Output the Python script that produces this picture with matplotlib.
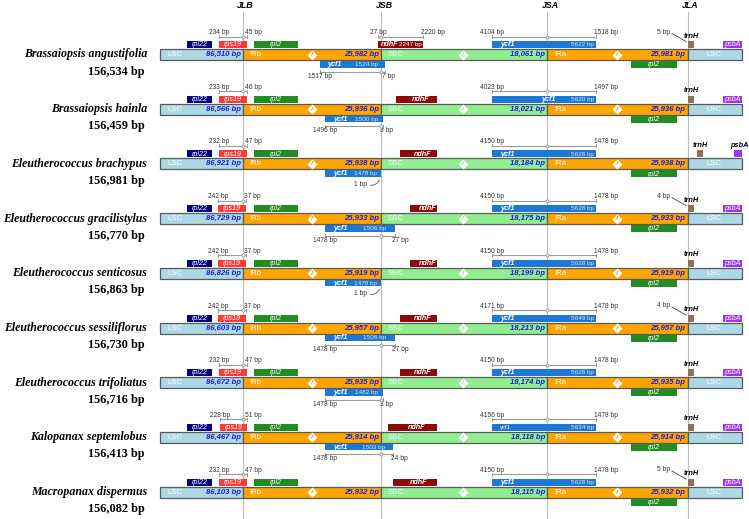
import matplotlib
matplotlib.use("Agg")
import matplotlib.pyplot as plt
from matplotlib.patches import Rectangle, FancyArrowPatch

species = ["Brassaiopsis angustifolia", "Brassaiopsis hainla", "Eleutherococcus brachypus",
           "Eleutherococcus gracilistylus", "Eleutherococcus senticosus", "Eleutherococcus sessiliflorus",
           "Eleutherococcus trifoliatus", "Kalopanax septemlobus", "Macropanax dispermus"]
genome_bp = [156534, 156459, 156981, 156770, 156863, 156730, 156716, 156413, 156082]
lsc_bp = [86510, 86566, 86921, 86729, 86826, 86603, 86672, 86467, 86103]
irb_bp = [25982, 25936, 25938, 25933, 25919, 25957, 25935, 25914, 25932]
ssc_bp = [18061, 18021, 18184, 18175, 18199, 18213, 18174, 18118, 18115]
ira_bp = [25981, 25936, 25938, 25933, 25919, 25957, 25935, 25914, 25932]

# rps19 across JLB
rps19_lsc = [234, 233, 232, 242, 242, 242, 232, 228, 232]
rps19_irb = [45, 46, 47, 37, 37, 37, 47, 51, 47]

# ycf1 fragment at IRb/SSC (None = absent, -1 = ends 1 bp before JSB)
ycf1_irb_len = [1524, 1500, 1478, 1506, 1478, 1506, 1482, 1503, None]
ycf1_irb_in = [1517, 1496, 1478, 1478, 1478, 1478, 1478, 1478, None]
ycf1_irb_ssc = [7, 3, -1, 27, -1, 27, 3, 24, None]

# ycf1 across JSA
ycf1_len = [5622, 5620, 5628, 5628, 5628, 5649, 5628, 5634, 5628]
ycf1_ssc = [4104, 4023, 4150, 4150, 4150, 4171, 4150, 4156, 4150]
ycf1_ira = [1518, 1497, 1478, 1478, 1478, 1478, 1478, 1478, 1478]

# ndhF (only first genome annotated)
ndhf_len = [2247, None, None, None, None, None, None, None, None]
ndhf_irb = [27, None, None, None, None, None, None, None, None]
ndhf_ssc = [2220, None, None, None, None, None, None, None, None]

# trnH distance from JLA
trnh_gap = [5, None, None, 4, None, 4, None, None, 5]

# ---- layout (pixels) ----
JUNC = [("JLB", 242.5), ("JSB", 381), ("JSA", 547), ("JLA", 687.5)]
BAR_X0, BAR_X1 = 160, 741.5
ROW_Y0, ROW_DY = 54.5, 54.7
ndhf_x0 = [378, 396, 400, 410, 410, 400, 400, 388, 393]
ycf1_lbl_x = [500, 548, 500, 500, 500, 500, 500, 500, 500]
trnh_detached = [False, False, True, False, False, False, False, False, False]

SANS = "Liberation Sans"
SERIF = "Liberation Serif"
C_LSC, C_IR, C_SSC = "#ADD8E6", "#FFA500", "#90EE90"
BLUE = "#1F1FE0"
GREY = "#9a9a9a"
TXT = "#333333"

fig = plt.figure(figsize=(7.49, 5.19), dpi=100)
ax = fig.add_axes([0, 0, 1, 1])
ax.set_xlim(0, 749)
ax.set_ylim(519, 0)
ax.axis("off")

jlb, jsb, jsa, jla = [x for _, x in JUNC]
for name, x in JUNC:
    ax.plot([x, x], [12, 519], color="#bdbdbd", lw=0.8, zorder=1)
    ax.text(x + 3, 5, name, ha="center", va="center", fontsize=6.3, fontweight="bold",
            fontstyle="italic", family=SANS)


def gene(x0, x1, y0, color, label=None, lbl_x=None, bold=False):
    ax.add_patch(Rectangle((x0, y0), x1 - x0, 7, fc=color, ec="none", zorder=3))
    if label:
        lx = (x0 + x1) / 2 if lbl_x is None else lbl_x
        ax.text(lx, y0 + 3.7, label, ha="center", va="center", fontsize=5.2, color="white",
                fontstyle="italic", fontweight="bold" if bold else "normal", family=SANS, zorder=4)


def span(xa, xm, xb, y, lt, rt, dy):
    ax.plot([xa, xb], [y, y], color=GREY, lw=0.8, zorder=3)
    for x in (xa, xb):
        ax.plot([x, x], [y - 1.5, y + 1.5], color=GREY, lw=0.7, zorder=3)
    ax.plot(xm, y, marker="o", ms=2.2, mfc="white", mec=GREY, mew=0.6, zorder=4)
    ax.text(xa, y + dy, lt, ha="center", va="center", fontsize=4.8, color=TXT, family=SANS)
    ax.text(xb - 2, y + dy, rt, ha="left", va="center", fontsize=4.8, color=TXT, family=SANS)


def brk(x, y, c):
    ax.plot(x, y, marker="D", ms=4.8, mfc="white", mec="none", zorder=4)
    ax.text(x, y, "//", ha="center", va="center", fontsize=4.0, color=c, fontweight="bold",
            fontstyle="italic", family=SANS, zorder=5)


for i, sp in enumerate(species):
    yc = ROW_Y0 + ROW_DY * i
    top = yc - 13.5
    bot = yc + 6.5

    ax.text(147, yc, sp, ha="right", va="center", family=SERIF, fontsize=8.6,
            fontweight="bold", fontstyle="italic")
    ax.text(145, yc + 17, f"{genome_bp[i]:,} bp", ha="right", va="center", family=SERIF,
            fontsize=8.8, fontweight="bold")

    segs = [(BAR_X0, jlb, C_LSC, "LSC", lsc_bp[i]), (jlb, jsb, C_IR, "IRb", irb_bp[i]),
            (jsb, jsa, C_SSC, "SSC", ssc_bp[i]), (jsa, jla, C_IR, "IRa", ira_bp[i]),
            (jla, BAR_X1, C_LSC, "LSC", None)]
    for x0, x1, c, lab, bp in segs:
        ax.add_patch(Rectangle((x0, yc - 5.5), x1 - x0, 11, fc=c, ec="#5a5a5a", lw=0.9, zorder=2))
        if bp is None:
            ax.text((x0 + x1) / 2 - 1, yc, lab, ha="center", va="center", fontsize=5.6,
                    color="white", family=SANS, zorder=4)
        else:
            ax.text(x0 + 7, yc, lab, ha="left", va="center", fontsize=5.6, color="white",
                    family=SANS, zorder=4)
            ax.text(x1 - 2, yc, f"{bp:,} bp", ha="right", va="center", fontsize=5.6, color=BLUE,
                    fontweight="bold", fontstyle="italic", family=SANS, zorder=4)
    brk(311.5, yc, C_IR)
    brk(462.5, yc, C_SSC)
    brk(617, yc, C_IR)

    # JLB genes
    gene(187, 212, top, "#000080", "rpl22")
    r0 = jlb - 0.1 * rps19_lsc[i]
    r1 = jlb + 0.09 * rps19_irb[i]
    gene(r0, r1, top, "#FF3838", "rps19")
    gene(253.5, 298, top, "#228B22", "rpl2")
    span(r0, jlb, r1, yc - 18, f"{rps19_lsc[i]} bp", f"{rps19_irb[i]} bp", -4)

    # ndhF
    n1 = 423 if ndhf_len[i] else 437
    if ndhf_len[i]:
        gene(ndhf_x0[i], n1, top, "#8B0A0A")
        ax.text(ndhf_x0[i] + 3, top + 3.7, "ndhF", ha="left", va="center", fontsize=5.2,
                color="white", fontstyle="italic", fontweight="bold", family=SANS, zorder=4)
        ax.text(n1 - 1.5, top + 3.7, f"{ndhf_len[i]} bp", ha="right", va="center", fontsize=4.6,
                color="white", family=SANS, zorder=4)
        span(ndhf_x0[i], jsb, n1, yc - 18, f"{ndhf_irb[i]} bp", f"{ndhf_ssc[i]} bp", -4)
    else:
        gene(ndhf_x0[i], n1, top, "#8B0A0A", "ndhF", lbl_x=(ndhf_x0[i] + n1) / 2 + 4, bold=True)

    # ycf1 across JSA
    small = i == 7
    ax.add_patch(Rectangle((492, top), 104, 7, fc="#1C78D4", ec="none", zorder=3))
    ax.text(ycf1_lbl_x[i], top + 3.7, "ycf1", ha="left" if ycf1_lbl_x[i] < 520 else "center",
            va="center", fontsize=4.3 if small else 5.2, color="white",
            fontstyle="normal" if small else "italic", fontweight="normal" if small else "bold",
            family=SANS, zorder=4)
    ax.text(594, top + 3.7, f"{ycf1_len[i]} bp", ha="right", va="center", fontsize=4.6,
            color="#e0e0e0", family=SANS, zorder=4)
    span(492, jsa, 596, yc - 18, f"{ycf1_ssc[i]} bp", f"{ycf1_ira[i]} bp", -4)

    # ycf1 at IRb/SSC
    if ycf1_irb_len[i] is not None:
        y0 = 325 - max(0, ycf1_irb_in[i] - 1496) * 0.25
        y1 = jsb + 0.5 * max(ycf1_irb_ssc[i], 0)
        ax.add_patch(Rectangle((y0, bot), y1 - y0, 6.5, fc="#1C78D4", ec="none", zorder=3))
        ax.text(y0 + 8, bot + 3.4, "ycf1", ha="left", va="center", fontsize=5.2, color="white",
                fontstyle="italic", fontweight="bold", family=SANS, zorder=4)
        ax.text(y0 + 0.72 * (y1 - y0), bot + 3.4, f"{ycf1_irb_len[i]} bp", ha="center",
                va="center", fontsize=4.6, color="#e0e0e0", family=SANS, zorder=4)
        if ycf1_irb_ssc[i] >= 0:
            span(y0, jsb, y1, yc + 17, f"{ycf1_irb_in[i]} bp", f"{ycf1_irb_ssc[i]} bp", 4.5)
        else:
            ax.text(361, yc + 20.5, f"{-ycf1_irb_ssc[i]} bp", ha="center", va="center",
                    fontsize=4.8, color=TXT, family=SANS)
            ax.add_patch(FancyArrowPatch((367.5, yc + 21), (380.5, yc + 13.5),
                                         connectionstyle="arc3,rad=0.45", arrowstyle="-",
                                         color="#555555", lw=0.6, zorder=3))

    # JLA genes
    gene(631, 677, bot, "#228B22", "rpl2")
    tx = 697 if trnh_detached[i] else jla
    ax.add_patch(Rectangle((tx, top), 6, 7, fc="#8B7355", ec="none", zorder=3))
    ax.text(tx + 3.5, yc - 18.5, "trnH", ha="center", va="center", fontsize=5.3,
            fontstyle="italic", fontweight="bold", family=SANS)
    if trnh_gap[i] is not None:
        ax.text(664, yc - 22.5, f"{trnh_gap[i]} bp", ha="center", va="center", fontsize=4.8,
                color=TXT, family=SANS)
        ax.plot([672, 686], [yc - 21, yc - 13], color="#444444", lw=0.6, zorder=3)
    if trnh_detached[i]:
        ax.add_patch(Rectangle((734, top), BAR_X1 - 734, 7, fc="#A033F0", ec="none", zorder=3))
        ax.text(739, yc - 18.5, "psbA", ha="center", va="center", fontsize=5.3,
                fontstyle="italic", fontweight="bold", family=SANS)
    else:
        gene(723, BAR_X1, top, "#A033F0", "psbA")

fig.savefig("out.png", dpi=100)
